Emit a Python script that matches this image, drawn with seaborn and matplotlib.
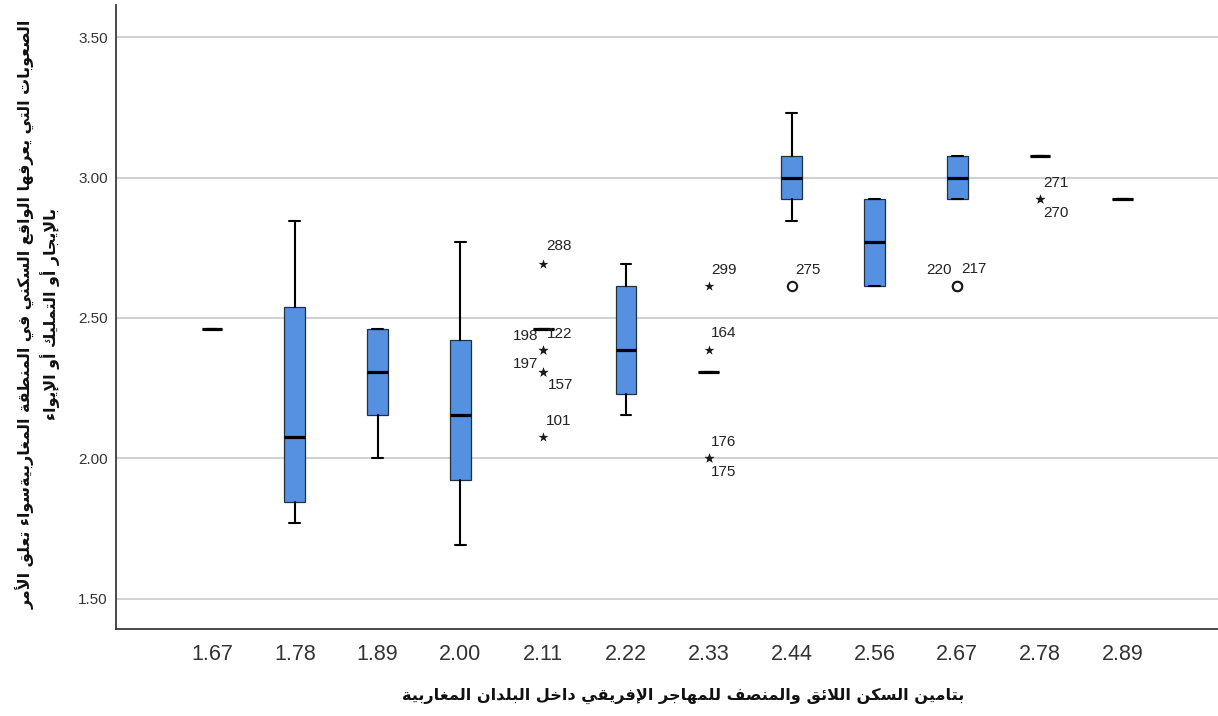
import matplotlib
matplotlib.use("Agg")
import matplotlib.pyplot as plt
import numpy as np
import pandas as pd
import seaborn as sns

# ---- data -------------------------------------------------------------
categories = ["1.67", "1.78", "1.89", "2.00", "2.11", "2.22",
              "2.33", "2.44", "2.56", "2.67", "2.78", "2.89"]
whisker_low = [2.462, 1.769, 2.000, 1.692, 2.462, 2.154, 2.308, 2.846, 2.615, 2.923, 3.077, 2.923]
q1 =          [2.462, 1.846, 2.154, 1.923, 2.462, 2.231, 2.308, 2.923, 2.615, 2.923, 3.077, 2.923]
median =      [2.462, 2.077, 2.308, 2.154, 2.462, 2.385, 2.308, 3.000, 2.769, 3.000, 3.077, 2.923]
q3 =          [2.462, 2.538, 2.462, 2.423, 2.462, 2.615, 2.308, 3.077, 2.923, 3.077, 3.077, 2.923]
whisker_high = [2.462, 2.846, 2.462, 2.769, 2.462, 2.692, 2.308, 3.231, 2.923, 3.077, 3.077, 2.923]

# outlying cases: group index, value, case number, kind
out_group = [4, 4, 4, 4, 4, 4, 6, 6, 6, 6, 7, 9, 9, 10, 10]
out_value = [2.692, 2.385, 2.385, 2.308, 2.308, 2.077,
             2.615, 2.385, 2.000, 2.000,
             2.615, 2.615, 2.615, 2.923, 2.923]
out_case = ["288", "198", "122", "197", "157", "101",
            "299", "164", "176", "175",
            "275", "220", "217", "271", "270"]
out_kind = ["extreme"] * 10 + ["mild"] * 3 + ["extreme"] * 2

y_ticks = [1.5, 2.0, 2.5, 3.0, 3.5]

x_title = "بتامين السكن اللائق والمنصف للمهاجر الإفريقي داخل البلدان المغاربية"
y_title_lines = ["الصعوبات التي يعرفها الواقع السكني في المنطقة المغاربيةسواء تعلق الأمر",
                 "بالإيجار أو التمليك أو الإيواء"]

# case label placement around each marker (pixels: dx, dy)
label_dx = [3, -5, 4, -5, 5, 3, 2, 2, 2, 2, 4, -5, 4, 3, 3]
label_dy = [18, 14, 16, 8, -13, 16, 16, 17, 16, -14, 16, 16, 17, 16, -14]

# ---- Arabic shaping (contextual forms + visual order) ------------------
ARABIC_FORMS = {
    "\u0621": (0xFE80, 1), "\u0622": (0xFE81, 2), "\u0623": (0xFE83, 2),
    "\u0624": (0xFE85, 2), "\u0625": (0xFE87, 2), "\u0626": (0xFE89, 4),
    "\u0627": (0xFE8D, 2), "\u0628": (0xFE8F, 4), "\u0629": (0xFE93, 2),
    "\u062A": (0xFE95, 4), "\u062B": (0xFE99, 4), "\u062C": (0xFE9D, 4),
    "\u062D": (0xFEA1, 4), "\u062E": (0xFEA5, 4), "\u062F": (0xFEA9, 2),
    "\u0630": (0xFEAB, 2), "\u0631": (0xFEAD, 2), "\u0632": (0xFEAF, 2),
    "\u0633": (0xFEB1, 4), "\u0634": (0xFEB5, 4), "\u0635": (0xFEB9, 4),
    "\u0636": (0xFEBD, 4), "\u0637": (0xFEC1, 4), "\u0638": (0xFEC5, 4),
    "\u0639": (0xFEC9, 4), "\u063A": (0xFECD, 4), "\u0641": (0xFED1, 4),
    "\u0642": (0xFED5, 4), "\u0643": (0xFED9, 4), "\u0644": (0xFEDD, 4),
    "\u0645": (0xFEE1, 4), "\u0646": (0xFEE5, 4), "\u0647": (0xFEE9, 4),
    "\u0648": (0xFEED, 2), "\u0649": (0xFEEF, 2), "\u064A": (0xFEF1, 4),
}
LAM_ALEF = {"\u0622": 0xFEF5, "\u0623": 0xFEF7, "\u0625": 0xFEF9, "\u0627": 0xFEFB}


def shape_arabic(text):
    tokens = []
    i = 0
    while i < len(text):
        ch = text[i]
        if ch == "\u0644" and i + 1 < len(text) and text[i + 1] in LAM_ALEF:
            tokens.append(("lamalef", LAM_ALEF[text[i + 1]]))
            i += 2
        else:
            tokens.append(("char", ch))
            i += 1

    def joins_after(tok):
        kind, v = tok
        return kind == "char" and v in ARABIC_FORMS and ARABIC_FORMS[v][1] == 4

    def joins_before(tok):
        kind, v = tok
        if kind == "lamalef":
            return True
        return v in ARABIC_FORMS and ARABIC_FORMS[v][1] >= 2

    out = []
    for k, tok in enumerate(tokens):
        prev_link = k > 0 and joins_after(tokens[k - 1]) and joins_before(tok)
        next_link = k + 1 < len(tokens) and joins_after(tok) and joins_before(tokens[k + 1])
        kind, v = tok
        if kind == "lamalef":
            out.append(chr(v + (1 if prev_link else 0)))
        elif v in ARABIC_FORMS:
            base, n = ARABIC_FORMS[v]
            if n == 4:
                form = 3 if (prev_link and next_link) else 1 if prev_link else 2 if next_link else 0
            elif n == 2:
                form = 1 if prev_link else 0
            else:
                form = 0
            out.append(chr(base + form))
        else:
            out.append(v)
    return "".join(reversed(out))


# ---- figure -----------------------------------------------------------
sns.set_theme(style="white")
plt.rcParams["font.family"] = ["Liberation Sans", "DejaVu Sans"]

W, H = 1218, 716
fig = plt.figure(figsize=(W / 100, H / 100), dpi=100)
ax = fig.add_axes([116 / W, 87 / H, (W - 116) / W, (629 - 5) / H])

positions = np.arange(len(categories))
stats = [
    {"whislo": wl, "q1": a, "med": m, "q3": b, "whishi": wh, "fliers": []}
    for wl, a, m, b, wh in zip(whisker_low, q1, median, q3, whisker_high)
]

box_color = "#5591e0"
edge_color = "#22303f"
ax.bxp(
    stats, positions=positions, widths=0.25, capwidths=0.13,
    patch_artist=True, showfliers=False,
    boxprops=dict(facecolor=box_color, edgecolor=edge_color, linewidth=0.9),
    medianprops=dict(color="black", linewidth=2.3, solid_capstyle="butt"),
    whiskerprops=dict(color="black", linewidth=1.5),
    capprops=dict(color="black", linewidth=1.5),
    zorder=3,
)

outliers = pd.DataFrame({
    "pos": np.array(out_group, dtype=float),
    "value": out_value,
    "case": out_case,
    "kind": out_kind,
})
stars = outliers[outliers["kind"] == "extreme"]
circles = outliers[outliers["kind"] == "mild"]
sns.scatterplot(data=stars, x="pos", y="value", marker="*", s=55,
                color="#1a1a1a", linewidth=0, ax=ax, zorder=4)
sns.scatterplot(data=circles, x="pos", y="value", marker="o", s=45,
                color="white", edgecolor="#1a1a1a", linewidth=1.5, ax=ax, zorder=4)

for (g, v, c), dx, dy in zip(zip(out_group, out_value, out_case), label_dx, label_dy):
    ax.annotate(c, xy=(g, v), xytext=(dx, dy), textcoords="offset pixels",
                ha="left" if dx > 0 else "right", va="center",
                fontsize=11, color="#222222", zorder=5)

# axes styling
ax.set_xlim(-1.16, 12.15)
ax.set_ylim(1.393, 3.614)
ax.set_xticks(positions)
ax.set_xticklabels(categories)
ax.set_yticks(y_ticks)
ax.set_yticklabels([f"{t:.2f}" for t in y_ticks])
ax.tick_params(axis="x", length=0, pad=11, labelsize=15.5, labelcolor="#333333")
ax.tick_params(axis="y", length=0, pad=6, labelsize=11, labelcolor="#333333")
ax.yaxis.grid(True, color="#c8c8c8", linewidth=1.2, zorder=0)
ax.xaxis.grid(False)
ax.set_axisbelow(True)
for side in ("top", "right"):
    ax.spines[side].set_visible(False)
for side in ("left", "bottom"):
    ax.spines[side].set_color("#3a3a3a")
    ax.spines[side].set_linewidth(1.3)

ax.set_xlabel(shape_arabic(x_title), fontsize=11.6, fontweight="bold",
              family=["DejaVu Sans"], labelpad=16, color="#111111")
ax.xaxis.label.set_x((683 - 116) / (W - 116))
ax.set_ylabel("\n".join(shape_arabic(s) for s in y_title_lines), fontsize=11.4,
              fontweight="bold", family=["DejaVu Sans"], labelpad=13,
              color="#111111", multialignment="center", linespacing=1.3)
ax.yaxis.label.set_y(1 - (314 - 5) / (629 - 5))

fig.savefig("out.png", dpi=100)
